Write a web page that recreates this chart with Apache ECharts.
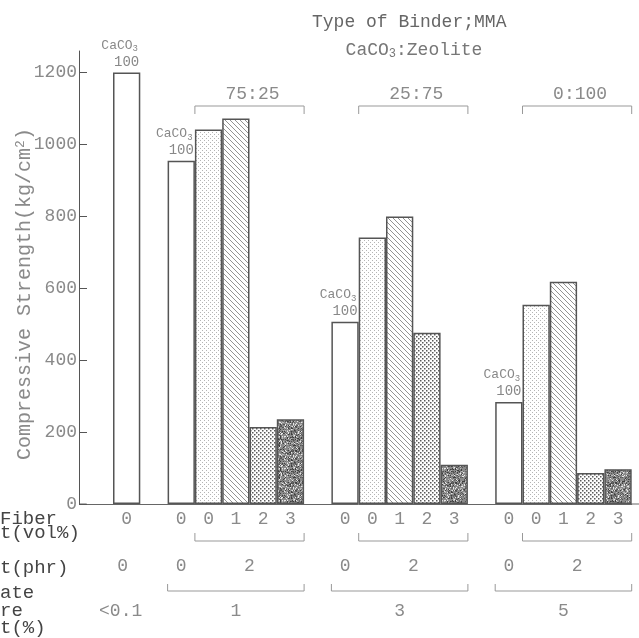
<!DOCTYPE html>
<html>
<head>
<meta charset="utf-8">
<script src="https://cdn.jsdelivr.net/npm/echarts@6/dist/echarts.min.js"></script>
<style>
  html, body { margin: 0; padding: 0; background: #fff; }
  #chart { width: 639px; height: 638px; }
</style>
</head>
<body>
<div id="chart"></div>
<script>
// compressive strength (kg/cm2)
const caco3Only = [1200];
const ratio75_25 = [955, 1042, 1072, 214, 236];
const ratio25_75 = [507, 741, 800, 476, 109];
const ratio0_100 = [284, 554, 618, 86, 97];
const ratioLabels = ['75:25', '25:75', '0:100'];
const fiberLabels = ['0', '0', '1', '2', '3'];      // vol%
const zeoliteLabels = ['0', '2'];                  // phr
const aggregateLabels = ['<0.1', '1', '3', '5'];   // %
const yTicks = [0, 200, 400, 600, 800, 1000, 1200];
const rowHeaders = ['Fiber', 't(vol%)', 't(phr)', 'ate', 're', 't(%)'];

const FONT = 'Liberation Mono';

// fill textures
function texture(kind) {
  if (kind === 0) return '#fff';
  const c = document.createElement('canvas');
  const ctx = c.getContext('2d');
  if (kind === 1) {
    c.width = 4; c.height = 4;
    ctx.fillStyle = '#fff'; ctx.fillRect(0, 0, 4, 4);
    ctx.fillStyle = '#b4b4b4';
    ctx.fillRect(0, 0, 1, 1); ctx.fillRect(2, 2, 1, 1);
  } else if (kind === 2) {
    c.width = 5; c.height = 5;
    ctx.fillStyle = '#fff'; ctx.fillRect(0, 0, 5, 5);
    ctx.strokeStyle = '#777'; ctx.lineWidth = 0.8;
    ctx.beginPath();
    ctx.moveTo(-1, -1); ctx.lineTo(6, 6);
    ctx.moveTo(-1, 4); ctx.lineTo(1, 6);
    ctx.moveTo(4, -1); ctx.lineTo(6, 1);
    ctx.stroke();
  } else if (kind === 3) {
    c.width = 4; c.height = 4;
    ctx.fillStyle = '#fff'; ctx.fillRect(0, 0, 4, 4);
    ctx.fillStyle = '#5a5a5a';
    ctx.fillRect(0, 0, 1.5, 1.5); ctx.fillRect(2, 2, 1.5, 1.5);
  } else {
    c.width = 32; c.height = 32;
    ctx.fillStyle = '#8a8a8a'; ctx.fillRect(0, 0, 32, 32);
    let s = 7;
    const rnd = () => { s = (s * 1103515245 + 12345) % 2147483648; return s / 2147483648; };
    const shades = ['#3e3e3e', '#555', '#6a6a6a', '#b8b8b8', '#e8e8e8'];
    for (let i = 0; i < 700; i++) {
      ctx.fillStyle = shades[Math.floor(rnd() * shades.length)];
      ctx.fillRect(Math.floor(rnd() * 32), Math.floor(rnd() * 32), 1, 1);
    }
  }
  return { image: c, repeat: 'repeat' };
}

const fills = [0, 1, 2, 3, 4].map(texture);

const caco3Label = {
  show: true,
  position: 'top',
  distance: 2,
  formatter: '{c|CaCO}{s|3}{w| }\n{n|100}',
  lineHeight: 17,
  rich: {
    c: { fontFamily: FONT, fontSize: 13, color: '#888', lineHeight: 17 },
    s: { fontFamily: FONT, fontSize: 9, color: '#888', verticalAlign: 'bottom', lineHeight: 14 },
    w: { width: 14 },
    n: { fontFamily: FONT, fontSize: 14, color: '#888', lineHeight: 17 }
  }
};

// build the slots: spacer, CaCO3-only bar, spacer, group, spacer, group, spacer, group
const groups = [ratio75_25, ratio25_75, ratio0_100];
const categories = [''];
const barData = ['-'];
function pushBar(v, kind, label) {
  const item = { value: v, itemStyle: { color: fills[kind] } };
  if (label) item.label = caco3Label;
  barData.push(item);
}
categories.push(fiberLabels[0]); pushBar(caco3Only[0], 0, true);
const groupStart = [];
groups.forEach(g => {
  categories.push(''); barData.push('-');
  groupStart.push(categories.length);
  g.forEach((v, i) => { categories.push(fiberLabels[i]); pushBar(v, i, i === 0); });
});

const slotW = 27.3;
const gridLeft = 113 - slotW;

const chart = echarts.init(document.getElementById('chart'));
chart.setOption({
  backgroundColor: '#fff',
  animation: false,
  grid: { left: gridLeft, top: 51, width: slotW * categories.length, height: 453 },
  xAxis: {
    type: 'category',
    data: categories,
    axisLine: { lineStyle: { color: '#666', width: 1 } },
    axisTick: { show: false },
    axisLabel: { interval: 0, margin: 6, color: '#8a8a8a', fontSize: 18, fontFamily: FONT }
  },
  yAxis: {
    type: 'value',
    min: 0,
    max: 1260,
    interval: 200,
    offset: gridLeft - 79,
    splitLine: { show: false },
    axisLine: { show: true, lineStyle: { color: '#555', width: 1 } },
    axisTick: { show: true, inside: true, length: 8, customValues: yTicks, lineStyle: { color: '#555' } },
    axisLabel: {
      customValues: yTicks,
      margin: 2,
      color: '#8a8a8a',
      fontSize: 18,
      fontFamily: FONT,
      formatter: v => (v % 200 === 0 ? String(v) : '')
    }
  },
  series: [{
    type: 'bar',
    data: barData,
    barCategoryGap: '0%',
    itemStyle: { borderColor: '#555', borderWidth: 1.5 }
  }]
});

// annotations placed from the axes
const cx = i => chart.convertToPixel({ xAxisIndex: 0 }, i);
const bw = cx(1) - cx(0);
const y0 = chart.convertToPixel({ yAxisIndex: 0 }, 0);
const left = i => cx(i) - bw / 2;
const right = i => cx(i) + bw / 2;

const txt = (text, x, y, o) => Object.assign({
  type: 'text', x: x, y: y, silent: true,
  style: { text: text, fontFamily: FONT, fontSize: 18, fill: '#8a8a8a', align: 'center', verticalAlign: 'middle' }
}, o || {});
const bracket = (x1, x2, y, dy) => ({
  type: 'polyline', silent: true,
  shape: { points: [[x1, y + dy], [x1, y], [x2, y], [x2, y + dy]] },
  style: { stroke: '#999', lineWidth: 1, fill: null }
});

const g = [];
// baseline pieces outside the slots
const lastSlot = categories.length - 1;
g.push({ type: 'line', silent: true, shape: { x1: 79, y1: y0, x2: left(0) + 1, y2: y0 }, style: { stroke: '#666', lineWidth: 1 } });
g.push({ type: 'line', silent: true, shape: { x1: right(lastSlot) - 1, y1: y0, x2: 639, y2: y0 }, style: { stroke: '#666', lineWidth: 1 } });

// titles
g.push(txt('Type of Binder;MMA', 312, 22, { style: { text: 'Type of Binder;MMA', fontFamily: FONT, fontSize: 18, fill: '#666', align: 'left', verticalAlign: 'middle' } }));
g.push({
  type: 'text', x: 414, y: 50, silent: true,
  style: {
    text: '{a|CaCO}{s|3}{a|:Zeolite}', align: 'center', verticalAlign: 'middle',
    rich: {
      a: { fontFamily: FONT, fontSize: 18, fill: '#777', lineHeight: 20 },
      s: { fontFamily: FONT, fontSize: 12, fill: '#777', verticalAlign: 'bottom', lineHeight: 14 }
    }
  }
});

// y axis name
g.push({
  type: 'text', x: 25, y: 294, rotation: Math.PI / 2, silent: true,
  style: {
    text: '{a|Compressive Strength(kg/cm}{u|2}{a|)}', align: 'center', verticalAlign: 'middle',
    rich: {
      a: { fontFamily: FONT, fontSize: 20, fill: '#8a8a8a', lineHeight: 22 },
      u: { fontFamily: FONT, fontSize: 13, fill: '#8a8a8a', verticalAlign: 'top', lineHeight: 12 }
    }
  }
});

// row headers (cut at the left edge in the original)
const headerY = [519, 533, 568, 593, 611, 628];
rowHeaders.forEach((h, i) => {
  g.push(txt(h, 0, headerY[i], { style: { text: h, fontFamily: FONT, fontSize: 19, fill: '#444', align: 'left', verticalAlign: 'middle' } }));
});

// CaCO3-only column
g.push(txt(zeoliteLabels[0], cx(1) - 4, 566));
g.push(txt(aggregateLabels[0], cx(1) - 6, 611));

groupStart.forEach((s, k) => {
  const e = s + 4;
  // ratio bracket above the zeolite bars
  g.push(bracket(left(s + 1), right(e), 106, 8));
  g.push(txt(ratioLabels[k], (left(s + 1) + right(e)) / 2 + 3, 94));
  // fiber bracket
  g.push(bracket(left(s + 1), right(e), 541, -8));
  // zeolite content
  g.push(txt(zeoliteLabels[0], cx(s), 566));
  g.push(txt(zeoliteLabels[1], (left(s + 1) + right(e)) / 2, 566));
  // aggregate bracket + value
  g.push(bracket(left(s), right(e), 591, -7));
  g.push(txt(aggregateLabels[k + 1], (left(s) + right(e)) / 2, 611));
});

chart.setOption({ graphic: g });
</script>
</body>
</html>
